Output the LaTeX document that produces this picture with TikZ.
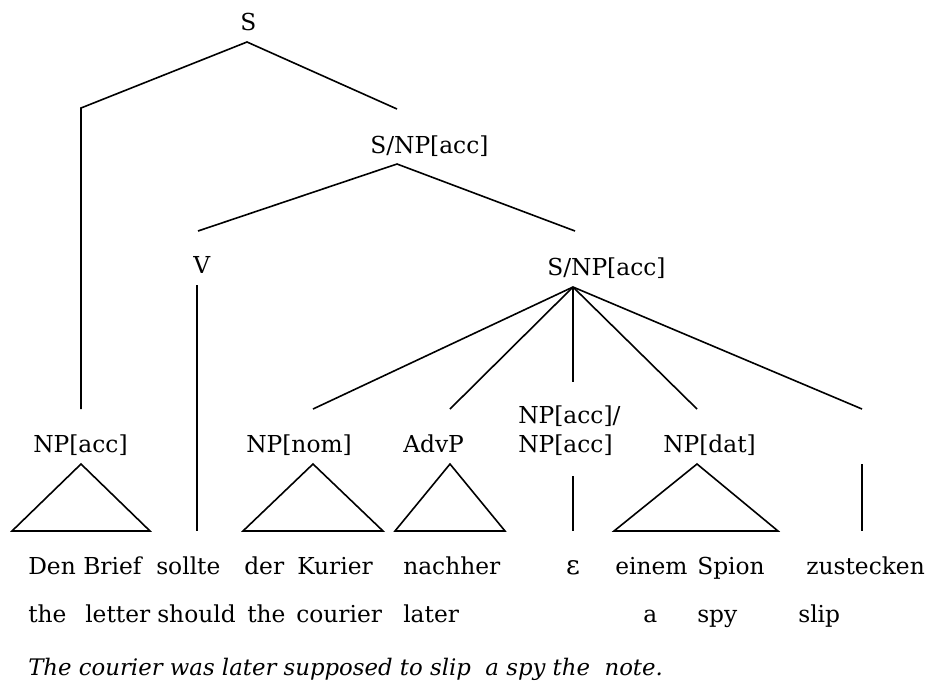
\documentclass[tikz,border=0pt]{standalone}
\usepackage{fontspec}
\setmainfont{DejaVu Serif}
\begin{document}
\begin{tikzpicture}[x=0.75pt,y=-0.75pt,
  lbl/.style={inner sep=0pt,anchor=base west,font=\fontsize{17.5}{21}\selectfont},
  gl/.style={lbl},
  edge/.style={line width=1.2pt,line join=miter}]
\useasboundingbox (0,0) rectangle (930,683);
% category labels
\node[lbl] (S) at (240,30) {S};
\node[lbl] (S1) at (370,153) {S/NP[acc]};
\node[lbl] (V) at (193,273) {V};
\node[lbl] (S2) at (547,275) {S/NP[acc]};
\node[lbl] (NPacc) at (33,452) {NP[acc]};
\node[lbl] (NPnom) at (246,452) {NP[nom]};
\node[lbl] (AdvP) at (403,452) {AdvP};
\node[lbl] (Slasha) at (518,423) {NP[acc]/};
\node[lbl] (Slashb) at (518,452) {NP[acc]};
\node[lbl] (NPdat) at (663,452) {NP[dat]};
% German words
\node[gl] (w1) at (28,574) {Den};
\node[gl] (w2) at (83,574) {Brief};
\node[gl] (w3) at (156,574) {sollte};
\node[gl] (w4) at (244,574) {der};
\node[gl] (w5) at (297,574) {Kurier};
\node[gl] (w6) at (403,574) {nachher};
\node[gl,anchor=base,font=\fontsize{20}{24}\selectfont] (w7) at (573,574) {ε};
\node[gl] (w8) at (615,574) {einem};
\node[gl] (w9) at (697,574) {Spion};
\node[gl] (w10) at (806,574) {zustecken};
% English glosses
\node[gl] (g1) at (28,622) {the};
\node[gl] (g2) at (85,622) {letter};
\node[gl] (g3) at (157,622) {should};
\node[gl] (g4) at (247,622) {the};
\node[gl] (g5) at (296,622) {courier};
\node[gl] (g6) at (403,622) {later};
\node[gl] (g7) at (643,622) {a};
\node[gl] (g8) at (697,622) {spy};
\node[gl] (g9) at (798,622) {slip};
\node[lbl,font=\fontsize{17.1}{21}\selectfont\itshape] (tr) at (28,675) {The courier was later supposed to slip\ \ a spy the\ \ note.};
% coordinates
\coordinate (Sa) at (247,42);
\coordinate (Sl) at (81,108);
\coordinate (NPacct) at (81,409);
\coordinate (S1t) at (397,109);
\coordinate (S1a) at (397,164);
\coordinate (Vt) at (198,231);
\coordinate (S2t) at (575,231);
\coordinate (Vb) at (197,285);
\coordinate (Vw) at (197,531);
\coordinate (S2a) at (573,287);
\coordinate (NPnomt) at (313,409);
\coordinate (AdvPt) at (450,409);
\coordinate (Slasht) at (573,382);
\coordinate (NPdatt) at (697,409);
\coordinate (Zt) at (862,409);
% triangles
\coordinate (T1a) at (81,464); \coordinate (T1l) at (12,531); \coordinate (T1r) at (150,531);
\coordinate (T2a) at (313,464); \coordinate (T2l) at (243,531); \coordinate (T2r) at (383,531);
\coordinate (T3a) at (450,464); \coordinate (T3l) at (395,531); \coordinate (T3r) at (505,531);
\coordinate (T4a) at (697,464); \coordinate (T4l) at (614,531); \coordinate (T4r) at (778,531);
\coordinate (Ea) at (573,476); \coordinate (Eb) at (573,531);
\coordinate (Za) at (862,464); \coordinate (Zb) at (862,531);
% edges
\draw[edge] (NPacct) -- (Sl) -- (Sa) -- (S1t);
\draw[edge] (Vt) -- (S1a) -- (S2t);
\draw[edge] (Vb) -- (Vw);
\foreach \t in {NPnomt,AdvPt,Slasht,NPdatt,Zt} \draw[edge] (S2a) -- (\t);
\draw[edge] (T1a) -- (T1l) -- (T1r) -- cycle;
\draw[edge] (T2a) -- (T2l) -- (T2r) -- cycle;
\draw[edge] (T3a) -- (T3l) -- (T3r) -- cycle;
\draw[edge] (T4a) -- (T4l) -- (T4r) -- cycle;
\draw[edge] (Ea) -- (Eb);
\draw[edge] (Za) -- (Zb);
\end{tikzpicture}
\end{document}
